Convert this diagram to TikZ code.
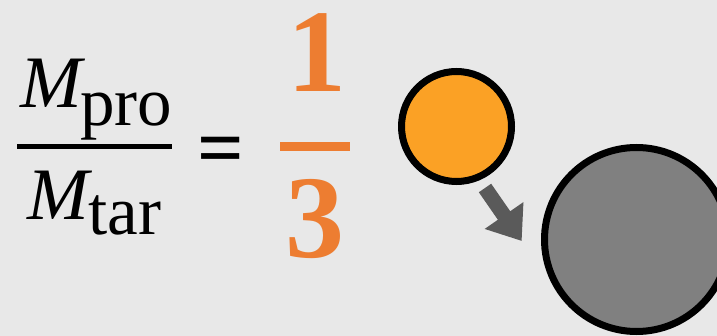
\documentclass[tikz,border=0pt]{standalone}
\usepackage{fontspec}
\setmainfont{Liberation Serif}
\usetikzlibrary{arrows.meta}
\definecolor{bgGray}{HTML}{E8E8E8}
\definecolor{ratioOrange}{HTML}{ED7D31}
\definecolor{ballOrange}{HTML}{FBA125}
\definecolor{ballGray}{HTML}{808080}
\definecolor{arrowGray}{HTML}{5A5A5A}
\tikzset{
  massSym/.style={inner sep=0pt, font=\fontsize{74}{80}\selectfont\itshape},
  massSub/.style={inner sep=0pt, font=\fontsize{69}{76}\selectfont},
  ratioNum/.style={inner sep=0pt, text=ratioOrange, font=\fontsize{118}{120}\selectfont\bfseries},
  ball/.style={circle, draw=black, line width=7pt, inner sep=0pt}
}

\begin{document}
\begin{tikzpicture}[x=1pt,y=-1pt]
  \fill[bgGray] (0,0) rectangle (717,336);
  \useasboundingbox (0,0) rectangle (717,336);
  % mass ratio
  \node[massSym, anchor=base west] (Mpro) at (20,108) {M};
  \node[massSub, anchor=base west] (subPro) at (80,126) {pro};
  \draw[line width=5pt] (17,147) -- (172,147);
  \node[massSym, anchor=base west] (Mtar) at (27,220) {M};
  \node[massSub, anchor=base west] (subTar) at (88,235) {tar};
  \node[inner sep=0pt, font=\fontsize{82}{90}\selectfont\bfseries, anchor=base] (eq) at (220.5,176) {=};
  % value
  \node[ratioNum, anchor=base] (one) at (316.5,92) {1};
  \draw[ratioOrange, line width=9pt] (280,146.5) -- (350,146.5);
  \node[ratioNum, anchor=base] (three) at (314.5,258) {3};
  % projectile and target
  \node[ball, fill=ballOrange, minimum size=110pt] (projectile) at (456.5,126.5) {};
  \node[ball, fill=ballGray, minimum size=184pt] (target) at (636.5,239.5) {};
  \coordinate (arrowTail) at (485,188);
  \coordinate (arrowTip) at (521.7,241);
  \draw[arrowGray, line width=15pt, -{Triangle[length=31pt,width=45pt]}] (arrowTail) -- (arrowTip);
\end{tikzpicture}
\end{document}
